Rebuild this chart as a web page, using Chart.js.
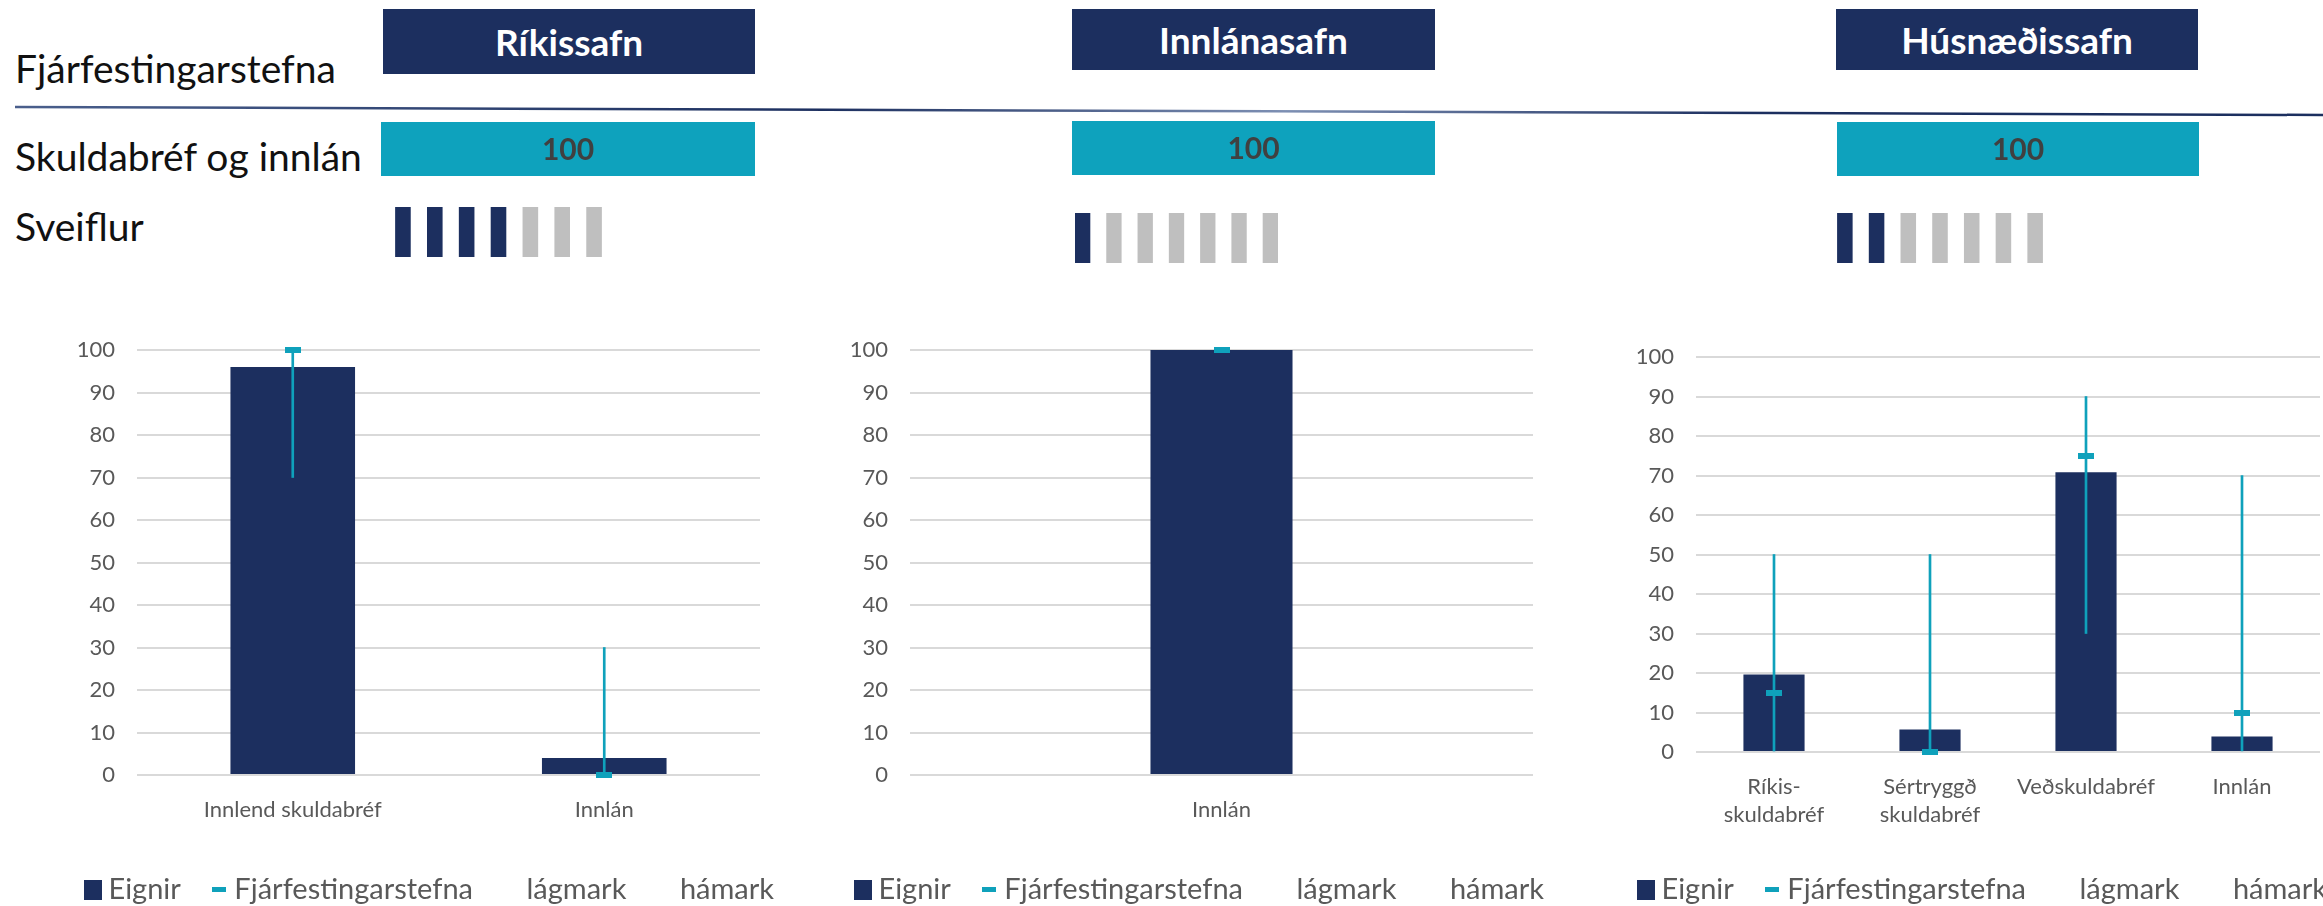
<!DOCTYPE html>
<html>
<head>
<meta charset="utf-8">
<script src="https://cdn.jsdelivr.net/npm/chart.js@4.4.0/dist/chart.umd.min.js"></script>
<style>
html, body { margin: 0; padding: 0; background: #fff; }
body { position: relative; width: 2323px; height: 906px; overflow: hidden; font-family: Lato, sans-serif; }
.abs { position: absolute; }
.rowlabel { position: absolute; left: 15px; font-size: 39px; line-height: 39px; color: #111; white-space: nowrap; }
.header { position: absolute; background: #1c2f5f; color: #fff; font-weight: bold; font-size: 37px;
  display: flex; align-items: center; justify-content: center; white-space: nowrap; }
canvas { position: absolute; }
</style>
</head>
<body>

<div class="rowlabel" style="top:49px">Fjárfestingarstefna</div>
<div class="rowlabel" style="top:137px">Skuldabréf og innlán</div>
<div class="rowlabel" style="top:207px">Sveiflur</div>

<svg class="abs" style="left:0;top:0" width="2323" height="906">
  <defs>
    <linearGradient id="strik" x1="0" x2="1" y1="0" y2="0">
      <stop offset="0" stop-color="#4a5f8c"/>
      <stop offset="0.35" stop-color="#1c2f5f"/>
      <stop offset="0.55" stop-color="#7d8fb3"/>
      <stop offset="0.75" stop-color="#1c2f5f"/>
      <stop offset="1" stop-color="#1c2f5f"/>
    </linearGradient>
  </defs>
  <line x1="15" y1="107" x2="2323" y2="115" stroke="url(#strik)" stroke-width="2.5"/>
</svg>

<div class="header" id="h0" style="left:383px;top:9px;width:372px;height:65px"></div>
<div class="header" id="h1" style="left:1072px;top:9px;width:363px;height:61px"></div>
<div class="header" id="h2" style="left:1836px;top:9px;width:362px;height:61px"></div>

<canvas id="s0" width="374" height="54" style="left:381px;top:122px"></canvas>
<canvas id="s1" width="363" height="54" style="left:1072px;top:121px"></canvas>
<canvas id="s2" width="362" height="54" style="left:1837px;top:122px"></canvas>

<canvas id="v0" width="223" height="50" style="left:387px;top:207px"></canvas>
<canvas id="v1" width="219" height="50" style="left:1067px;top:213px"></canvas>
<canvas id="v2" width="222" height="50" style="left:1829px;top:213px"></canvas>

<canvas id="c0" width="866" height="614" style="left:0px;top:300px"></canvas>
<canvas id="c1" width="866" height="614" style="left:770px;top:300px"></canvas>
<canvas id="c2" width="866" height="614" style="left:1553px;top:300px"></canvas>

<script>
// sjóðir og yfirlit
const sjodir = ['Ríkissafn', 'Innlánasafn', 'Húsnæðissafn'];
const skuldabrefOgInnlan = [100, 100, 100];
const sveiflur = [4, 1, 2];
const sveifluKvardi = [1, 2, 3, 4, 5, 6, 7];

// Ríkissafn
const rikisFlokkar = ['Innlend skuldabréf', 'Innlán'];
const rikisEignir = [96, 4];
const rikisStefna = [100, 0];
const rikisLagmark = [70, 0];
const rikisHamark = [100, 30];

// Innlánasafn
const innlanaFlokkar = ['Innlán'];
const innlanaEignir = [100];
const innlanaStefna = [100];
const innlanaLagmark = [100];
const innlanaHamark = [100];

// Húsnæðissafn
const husFlokkar = [['Ríkis-', 'skuldabréf'], ['Sértryggð', 'skuldabréf'], 'Veðskuldabréf', 'Innlán'];
const husEignir = [19.6, 5.7, 70.8, 3.9];
const husStefna = [15, 0, 75, 10];
const husLagmark = [0, 0, 30, 0];
const husHamark = [50, 50, 90, 70];

const NAVY = '#1c2f5f';
const TEAL = '#0fa1bb';
const TEAL_BOX = '#0ea2bd';
const GRAY = '#bfbfbf';
const TXT = '#595959';

Chart.defaults.font.family = 'Lato, sans-serif';

function icon(w, h, color) {
  const c = document.createElement('canvas');
  c.width = w; c.height = h;
  if (color) {
    const g = c.getContext('2d');
    g.fillStyle = color;
    g.fillRect(0, 0, w, h);
  }
  return c;
}
const eignirIcon = icon(18, 20, NAVY);
const stefnaIcon = icon(14, 5, TEAL);
const blankIcon = icon(18, 20, null);
const stefnaPoint = icon(16, 6, TEAL);

sjodir.forEach((nafn, i) => { document.getElementById('h' + i).textContent = nafn; });

// texti á miðja súlu
const gildiPlugin = {
  id: 'gildi',
  afterDatasetsDraw(chart) {
    const ctx = chart.ctx;
    chart.getDatasetMeta(0).data.forEach((bar, i) => {
      ctx.save();
      ctx.font = 'bold 30px Lato, sans-serif';
      ctx.fillStyle = '#404040';
      ctx.textAlign = 'center';
      ctx.textBaseline = 'middle';
      ctx.fillText(chart.data.datasets[0].data[i], (bar.x + bar.base) / 2, bar.y + 1);
      ctx.restore();
    });
  }
};

skuldabrefOgInnlan.forEach((v, i) => {
  new Chart(document.getElementById('s' + i), {
    type: 'bar',
    data: {
      labels: ['Skuldabréf og innlán'],
      datasets: [{ data: [v], backgroundColor: TEAL_BOX, barPercentage: 1, categoryPercentage: 1 }]
    },
    options: {
      indexAxis: 'y', responsive: false, animation: false, events: [], devicePixelRatio: 1,
      scales: { x: { display: false, min: 0, max: 100 }, y: { display: false } },
      plugins: { legend: { display: false }, tooltip: { enabled: false } }
    },
    plugins: [gildiPlugin]
  });
});

sveiflur.forEach((stig, i) => {
  new Chart(document.getElementById('v' + i), {
    type: 'bar',
    data: {
      labels: sveifluKvardi,
      datasets: [{
        data: sveifluKvardi.map(() => 1),
        backgroundColor: sveifluKvardi.map(k => k <= stig ? NAVY : GRAY),
        barPercentage: 0.49, categoryPercentage: 1
      }]
    },
    options: {
      responsive: false, animation: false, events: [], devicePixelRatio: 1,
      scales: { x: { display: false }, y: { display: false, min: 0, max: 1 } },
      plugins: { legend: { display: false }, tooltip: { enabled: false } }
    }
  });
});

function safnChart(id, flokkar, eignir, stefna, lagmark, hamark, o) {
  return new Chart(document.getElementById(id), {
    type: 'bar',
    data: {
      labels: flokkar,
      datasets: [
        { label: 'Eignir', data: eignir, backgroundColor: NAVY, grouped: false, order: 3,
          categoryPercentage: o.cat, barPercentage: o.bar, legendIcon: eignirIcon },
        { label: 'bil', data: lagmark.map((v, k) => [v, hamark[k]]), backgroundColor: TEAL,
          grouped: false, barThickness: 2, order: 2 },
        { type: 'line', label: 'Fjárfestingarstefna', data: stefna, showLine: false,
          pointStyle: stefnaPoint, pointRadius: 8, clip: false, order: 1, legendIcon: stefnaIcon },
        { type: 'line', label: 'lágmark', data: lagmark, showLine: false, pointRadius: 0, legendIcon: blankIcon },
        { type: 'line', label: 'hámark', data: hamark, showLine: false, pointRadius: 0, legendIcon: blankIcon }
      ]
    },
    options: {
      responsive: false, animation: false, events: [], devicePixelRatio: 1,
      layout: { padding: { top: o.top, left: 0, right: 0, bottom: 0 } },
      scales: {
        x: {
          grid: { display: false }, border: { display: false },
          ticks: { color: TXT, font: { size: 22, lineHeight: 1.27 }, padding: 13, maxRotation: 0, autoSkip: false },
          afterFit: s => { s.height = o.xh; }
        },
        y: {
          min: 0, max: 100,
          ticks: { stepSize: 10, color: TXT, font: { size: 22 }, padding: 22 },
          grid: { color: '#d9d9d9', lineWidth: 2, drawTicks: false },
          border: { display: false },
          afterFit: s => { s.width = o.yw; }
        },
        yr: {
          type: 'linear', axis: 'y', position: 'right',
          grid: { display: false }, border: { display: false }, ticks: { display: false },
          afterFit: s => { s.width = o.rw; }
        }
      },
      plugins: {
        tooltip: { enabled: false },
        legend: {
          position: 'bottom',
          labels: {
            usePointStyle: true, boxWidth: 2, padding: 37, color: TXT, font: { size: 29 },
            generateLabels: chart => chart.data.datasets
              .map((d, k) => ({ d, k }))
              .filter(e => e.d.legendIcon)
              .map(e => ({ text: e.d.label, pointStyle: e.d.legendIcon, datasetIndex: e.k,
                fillStyle: 'transparent', strokeStyle: 'transparent', lineWidth: 0,
                hidden: false, fontColor: TXT }))
          }
        }
      }
    }
  });
}

safnChart('c0', rikisFlokkar, rikisEignir, rikisStefna, rikisLagmark, rikisHamark,
  { cat: 0.8, bar: 0.5, top: 50, xh: 63, yw: 137, rw: 106 });
safnChart('c1', innlanaFlokkar, innlanaEignir, innlanaStefna, innlanaLagmark, innlanaHamark,
  { cat: 1, bar: 0.228, top: 50, xh: 63, yw: 140, rw: 103 });
safnChart('c2', husFlokkar, husEignir, husStefna, husLagmark, husHamark,
  { cat: 0.8, bar: 0.49, top: 57, xh: 86, yw: 143, rw: 99 });
</script>
</body>
</html>
